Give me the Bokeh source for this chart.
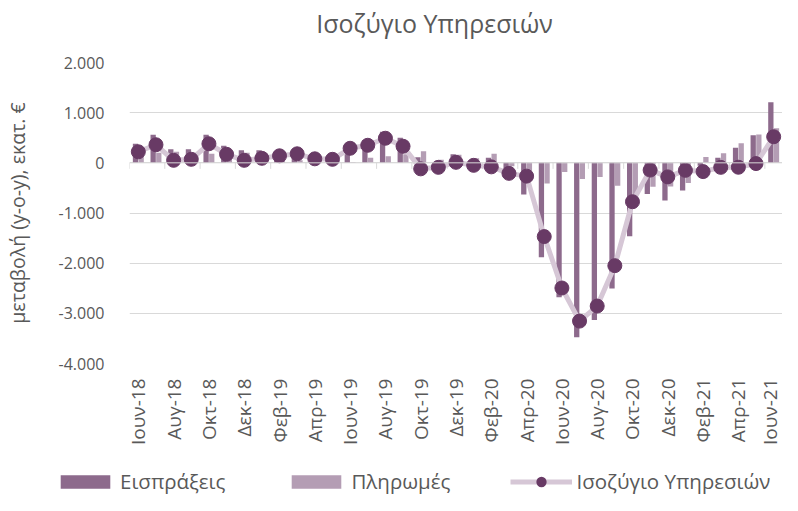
import math
from bokeh.plotting import figure
from bokeh.layouts import column
from bokeh.models import (ColumnDataSource, FixedTicker, Legend, LegendItem,
                          Range1d, Span, Label)
from bokeh.embed import file_html
from bokeh.resources import INLINE

# ---- data ----
months = ["Ιουν-18", "Ιουλ-18", "Αυγ-18", "Σεπ-18", "Οκτ-18", "Νοε-18", "Δεκ-18",
          "Ιαν-19", "Φεβ-19", "Μαρ-19", "Απρ-19", "Μαϊ-19", "Ιουν-19", "Ιουλ-19",
          "Αυγ-19", "Σεπ-19", "Οκτ-19", "Νοε-19", "Δεκ-19", "Ιαν-20", "Φεβ-20",
          "Μαρ-20", "Απρ-20", "Μαϊ-20", "Ιουν-20", "Ιουλ-20", "Αυγ-20", "Σεπ-20",
          "Οκτ-20", "Νοε-20", "Δεκ-20", "Ιαν-21", "Φεβ-21", "Μαρ-21", "Απρ-21",
          "Μαϊ-21", "Ιουν-21"]
receipts = [380, 560, 270, 270, 560, 340, 250, 250, 220, 230, 170, 130, 300, 450,
            620, 500, 110, -30, 170, 40, 100, -280, -630, -1880, -2680, -3475,
            -3135, -2505, -1465, -620, -750, -550, -60, 100, 300, 550, 1210]
payments = [160, 200, 220, 200, 180, 170, 200, 160, 80, 50, 90, 60, 10, 100,
            130, 170, 230, 60, 160, 90, 180, -70, -365, -410, -185, -320,
            -280, -455, -690, -475, -470, -400, 115, 190, 388, 565, 690]
balance = [220, 360, 50, 70, 380, 170, 50, 90, 140, 180, 80, 70, 290, 350,
           490, 330, -120, -90, 10, -50, -80, -210, -265, -1470, -2495, -3155,
           -2855, -2050, -775, -145, -280, -150, -175, -90, -88, -15, 520]
y_ticks = [-4000, -3000, -2000, -1000, 0, 1000, 2000]
y_tick_labels = ["-4.000", "-3.000", "-2.000", "-1.000", "0", "1.000", "2.000"]

series_names = ["Εισπράξεις", "Πληρωμές", "Ισοζύγιο Υπηρεσιών"]
title_text = "Ισοζύγιο Υπηρεσιών"
y_label = "μεταβολή (y-o-y), εκατ. €"

# ---- styling ----
FONT = "Open Sans"
TXT = "#595959"
GRID = "#d9d9d9"
C_REC = "#8d6a8c"
C_PAY = "#b49db4"
C_LINE = "#d6c7d6"
C_MARK = "#683a65"
W = 782


def strip(height):
    f = figure(width=W, height=height, output_backend="svg", toolbar_location=None,
               x_range=Range1d(0, 1), y_range=Range1d(0, 1),
               x_axis_location=None, y_axis_location=None, min_border=0)
    f.outline_line_color = None
    f.xgrid.visible = False
    f.ygrid.visible = False
    f.frame_align = False
    return f


# ---- title strip ----
tf = strip(40)
tf.add_layout(Label(x=434, y=18, x_units="screen", y_units="screen", text=title_text,
                    text_align="center", text_baseline="middle", text_font=FONT,
                    text_font_size="25px", text_color=TXT))

# ---- main chart ----
n = len(months)
idx = list(range(n))
off = 0.16
bw = 0.3
src = ColumnDataSource(dict(
    x=idx,
    xr=[i - off for i in idx],
    xp=[i + off for i in idx],
    rec=receipts, pay=payments, bal=balance,
))

p = figure(width=W, height=416, output_backend="svg", toolbar_location=None,
           x_range=Range1d(-0.5, n - 0.5), y_range=Range1d(-4000, 2000),
           min_border_left=116, min_border_right=0, min_border_top=22,
           min_border_bottom=93)
p.outline_line_color = None
p.background_fill_color = "white"

p.ygrid.ticker = FixedTicker(ticks=y_ticks)
p.ygrid.grid_line_color = GRID
p.xgrid.grid_line_color = None

# baseline at zero with small tick marks between label pairs
p.add_layout(Span(location=0, dimension="width", line_color=GRID, line_width=1))
tick_x = [i - 0.5 for i in idx[::2]]
tick_len = 120
p.segment(x0=tick_x, x1=tick_x, y0=[0] * len(tick_x), y1=[-tick_len] * len(tick_x),
          line_color=GRID, line_width=1)

p.vbar(x="xr", top="rec", width=bw, source=src, fill_color=C_REC, line_color=None)
p.vbar(x="xp", top="pay", width=bw, source=src, fill_color=C_PAY, line_color=None)
p.line(x="x", y="bal", source=src, line_color=C_LINE, line_width=5)
p.scatter(x="x", y="bal", source=src, size=14, fill_color=C_MARK, line_color=C_MARK)

# y axis
ya = p.yaxis[0]
ya.ticker = FixedTicker(ticks=y_ticks)
ya.major_label_overrides = {t: l for t, l in zip(y_ticks, y_tick_labels)}
ya.axis_line_color = None
ya.major_tick_line_color = None
ya.minor_tick_line_color = None
ya.major_label_text_font = FONT
ya.major_label_text_font_size = "16px"
ya.major_label_text_color = TXT
ya.major_label_standoff = 19
ya.axis_label = y_label
ya.axis_label_text_font = FONT
ya.axis_label_text_font_size = "19.5px"
ya.axis_label_text_font_style = "normal"
ya.axis_label_text_color = TXT
ya.axis_label_standoff = 25

# x axis (labels at bottom)
xa = p.xaxis[0]
label_ticks = idx[::2]
xa.ticker = FixedTicker(ticks=label_ticks)
xa.major_label_overrides = {i: months[i] for i in label_ticks}
xa.major_label_orientation = math.pi / 2
xa.axis_line_color = None
xa.major_tick_line_color = None
xa.minor_tick_line_color = None
xa.major_label_text_font = FONT
xa.major_label_text_font_size = "19px"
xa.major_label_text_color = TXT
xa.major_label_standoff = 9

# ---- legend strip (legend-only figure; its sample glyphs sit outside the view) ----
lg = strip(39)
hidden = ColumnDataSource(dict(x=[-10], y=[-10]))
l_rec = lg.vbar(x="x", top="y", width=0.1, source=hidden, fill_color=C_REC, line_color=None)
l_pay = lg.vbar(x="x", top="y", width=0.1, source=hidden, fill_color=C_PAY, line_color=None)
l_line = lg.line(x="x", y="y", source=hidden, line_color=C_LINE, line_width=5)
l_mark = lg.scatter(x="x", y="y", source=hidden, size=10, fill_color=C_MARK,
                    line_color=C_MARK, line_width=3.5)

legend = Legend(items=[
    LegendItem(label=series_names[0], renderers=[l_rec]),
    LegendItem(label=series_names[1], renderers=[l_pay]),
    LegendItem(label=series_names[2], renderers=[l_line, l_mark]),
], orientation="horizontal", location=(54, 0))
legend.border_line_color = None
legend.background_fill_alpha = 0
legend.label_text_font = FONT
legend.label_text_font_size = "20.5px"
legend.label_text_color = TXT
legend.glyph_width = 62
legend.glyph_height = 17
legend.spacing = 60
legend.label_standoff = 4
legend.padding = 0
legend.margin = 0
lg.add_layout(legend, "center")

layout = column(tf, p, lg, spacing=0)
open("out.html", "w").write(file_html(layout, INLINE))
